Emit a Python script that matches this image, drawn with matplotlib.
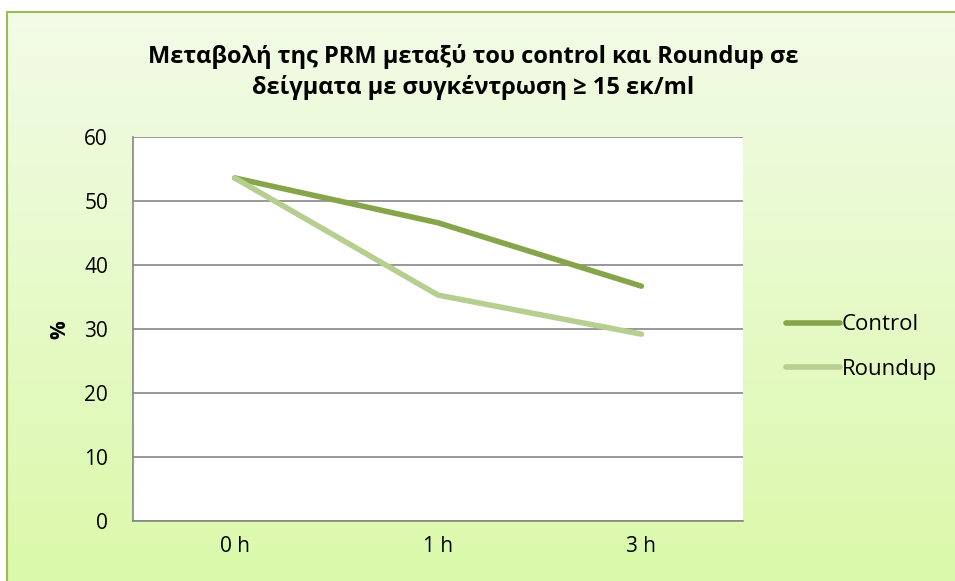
import numpy as np
import matplotlib.pyplot as plt
from matplotlib.patches import Rectangle

# data
categories = ["0 h", "1 h", "3 h"]
control = [53.6, 46.6, 36.7]
roundup = [53.6, 35.3, 29.2]
y_ticks = [0, 10, 20, 30, 40, 50, 60]

title = "Μεταβολή της PRM μεταξύ του control και Roundup σε\nδείγματα με συγκέντρωση ≥ 15 εκ/ml"

W, H = 955, 581
plt.rcParams['font.family'] = ['Open Sans', 'DejaVu Sans']

fig = plt.figure(figsize=(W / 100, H / 100), dpi=100)
fig.patch.set_facecolor("white")

# chart area background: vertical gradient + green border
x0, y0 = 7 / W, -0.02
bw, bh = 1 - x0 + 0.02, 1 - 12 / H + 0.02
bg = fig.add_axes([x0, y0, bw, bh], zorder=0)
grad = np.linspace(0, 1, 256).reshape(-1, 1)
top = np.array([0.95, 0.985, 0.905])
bot = np.array([0.855, 0.976, 0.66])
img = top + (bot - top) * grad[:, :, None]
bg.imshow(img, aspect="auto", extent=[0, 1, 0, 1], origin="upper")
bg.set_axis_off()
fig.patches.append(Rectangle((x0, y0), bw, bh, transform=fig.transFigure,
                             fill=False, edgecolor="#9BBB59", linewidth=1.5, zorder=5))

# plot area
left, right, top_px, bottom_px = 133, 743, 137, 521
ax = fig.add_axes([left / W, 1 - bottom_px / H, (right - left) / W, (bottom_px - top_px) / H], zorder=2)
ax.set_facecolor("white")

x = np.arange(len(categories))
l1, = ax.plot(x, control, color="#86A54A", linewidth=4, solid_capstyle="round", label="Control", zorder=3)
l2, = ax.plot(x, roundup, color="#B7CE91", linewidth=4, solid_capstyle="round", label="Roundup", zorder=3)

ax.set_xlim(-0.5, 2.5)
ax.set_ylim(0, 60)
ax.set_yticks(y_ticks)
ax.set_xticks(x)
ax.set_xticklabels(categories)
ax.yaxis.grid(True, color="#868686", linewidth=1.2)
ax.set_axisbelow(True)
for s in ["top", "right"]:
    ax.spines[s].set_visible(False)
for s in ["left", "bottom"]:
    ax.spines[s].set_color("#868686")
    ax.spines[s].set_linewidth(1.2)
ax.tick_params(axis="both", length=0, labelsize=15, colors="black")
ax.tick_params(axis="y", pad=18)
ax.tick_params(axis="x", pad=11)

fig.text(60 / W, 1 - 330 / H, "%", rotation=90, fontsize=15, fontweight="bold",
         ha="center", va="center")
fig.text(473 / W, 1 - 72 / H, title, fontsize=17, fontweight="bold",
         ha="center", va="center", linespacing=1.35)

fig.legend(handles=[l1, l2], loc="center left", bbox_to_anchor=(766 / W, 1 - 347 / H),
           frameon=False, fontsize=16, handlelength=2.45, handletextpad=0.05,
           labelspacing=1.05)

fig.savefig("out.png", dpi=100)
